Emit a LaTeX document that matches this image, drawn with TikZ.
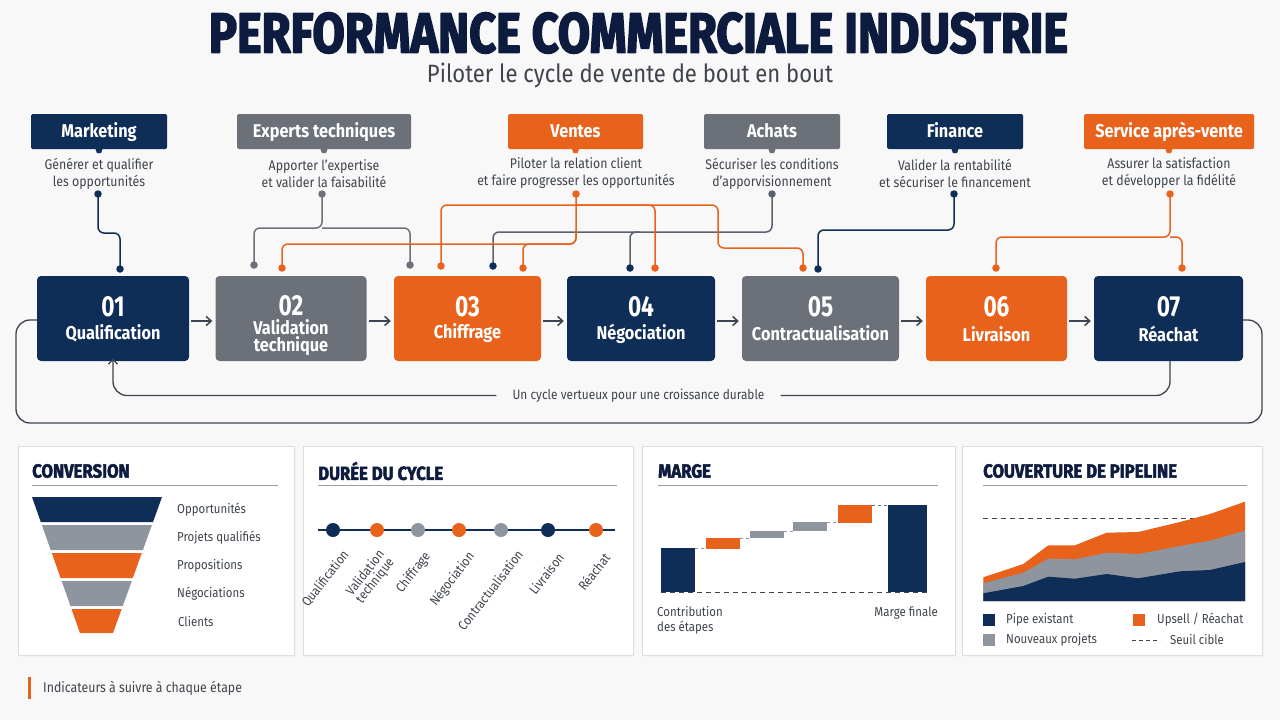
\documentclass[tikz,border=0pt]{standalone}
\usepackage{fontspec}
\setmainfont{Fira Sans}[FakeStretch=0.88]
\newfontfamily\numfont{Fira Sans}[FakeStretch=0.78]
\usetikzlibrary{arrows.meta,calc}
\newcommand{\heavytext}[2]{\special{pdf:literal direct 2 Tr #1 w 1 j}#2\special{pdf:literal direct 0 Tr}}
\definecolor{navy}{HTML}{0E2D57}
\definecolor{orng}{HTML}{E8621C}
\definecolor{slate}{HTML}{6B7079}
\definecolor{lgray}{HTML}{8E959E}
\definecolor{txt}{HTML}{3F444C}
\definecolor{ttl}{HTML}{0D1B3E}
\definecolor{bgc}{HTML}{F8F8F8}
\definecolor{lnc}{HTML}{3D4350}
\definecolor{achc}{HTML}{5A6270}
\definecolor{rule}{HTML}{9A9EA4}
\begin{document}
\begin{tikzpicture}[x=1pt,y=-1pt,
  role/.style={rounded corners=1.5pt, text=white, inner sep=0pt, minimum height=35pt,
    text height=12pt, text depth=0pt, font=\fontsize{18.5}{20}\selectfont\bfseries},
  desc/.style={text=txt, align=center, inner sep=0pt, font=\fontsize{14}{17}\selectfont},
  stagebox/.style={rounded corners=4pt, inner sep=0pt, minimum height=85pt},
  stnum/.style={text=white, inner sep=0pt, font=\fontsize{29}{30}\selectfont\numfont\bfseries},
  stlab/.style={text=white, inner sep=0pt, align=center, font=\fontsize{18.5}{17}\selectfont\bfseries},
  conn/.style={line width=1.5pt, rounded corners=6pt},
  enddot/.style={circle, inner sep=0pt, minimum size=7.5pt},
  flow/.style={lnc, line width=1.5pt, -{Straight Barb[length=5pt,width=9pt]}, shorten <=2pt, shorten >=3pt},
  loopline/.style={lnc, line width=1.3pt, rounded corners=14pt},
  panel/.style={draw=black!13, fill=white, inner sep=0pt},
  ptitle/.style={text=ttl, inner sep=0pt, anchor=west, font=\fontsize{19}{20}\selectfont\bfseries},
  small/.style={text=txt, inner sep=0pt, font=\fontsize{13}{15}\selectfont},
  tlab/.style={text=txt, inner sep=0pt, anchor=east, rotate=52, align=center, font=\fontsize{13.2}{12.5}\selectfont}
]
\useasboundingbox (0,0) rectangle (1280,720);
\fill[bgc] (0,0) rectangle (1280,720);

% ---------- title ----------
\node[inner sep=0pt, text=ttl] (title) at (638.5,33) {\resizebox{859pt}{40pt}{\bfseries\heavytext{0.28}{PERFORMANCE COMMERCIALE INDUSTRIE}}};
\node[inner sep=0pt, text=txt] (subtitle) at (630,75) {\resizebox{406pt}{!}{\fontsize{22}{24}\selectfont Piloter le cycle de vente de bout en bout}};

% ---------- roles ----------
\node[role, fill=navy, minimum width=136pt] (rMk) at (99,131.5) {Marketing};
\node[role, fill=slate, minimum width=174pt] (rEx) at (324,131.5) {Experts techniques};
\node[role, fill=orng, minimum width=135pt] (rVe) at (575.5,131.5) {Ventes};
\node[role, fill=slate, minimum width=136pt] (rAc) at (772,131.5) {Achats};
\node[role, fill=navy, minimum width=136pt] (rFi) at (955,131.5) {Finance};
\node[role, fill=orng, minimum width=170pt] (rSa) at (1169,131.5) {Service après-vente};
\foreach \r/\c in {rMk/navy,rEx/slate,rVe/orng,rAc/slate,rFi/navy,rSa/orng}
  \fill[\c] ($(\r.south)+(-3.5,0)$) -- ($(\r.south)+(3.5,0)$) -- ($(\r.south)+(2,4)$) -- ($(\r.south)+(-2,4)$) -- cycle;

\node[desc] (dMk) at (99,173.5) {Générer et qualifier\\les opportunités};
\node[desc] (dEx) at (324,173.5) {Apporter l'expertise\\et valider la faisabilité};
\node[desc] (dVe) at (576,173.5) {Piloter la relation client\\et faire progresser les opportunités};
\node[desc] (dAc) at (772,173.5) {Sécuriser les conditions\\d’apporvisionnement};
\node[desc] (dFi) at (955,173.5) {Valider la rentabilité\\et sécuriser le financement};
\node[desc] (dSa) at (1169,173.5) {Assurer la satisfaction\\et développer la fidélité};

% ---------- stages ----------
\node[stagebox, fill=navy, minimum width=152pt] (st1) at (113,318.5) {};
\node[stagebox, fill=slate, minimum width=151pt] (st2) at (291,318.5) {};
\node[stagebox, fill=orng, minimum width=147pt] (st3) at (467.5,318.5) {};
\node[stagebox, fill=navy, minimum width=148pt] (st4) at (641,318.5) {};
\node[stagebox, fill=slate, minimum width=157pt] (st5) at (820.5,318.5) {};
\node[stagebox, fill=orng, minimum width=141pt] (st6) at (996.5,318.5) {};
\node[stagebox, fill=navy, minimum width=149pt] (st7) at (1168.5,318.5) {};

\node[stnum] (n1) at (113,307) {01};
\node[stnum] (n2) at (291,306) {02};
\node[stnum] (n3) at (467.5,307) {03};
\node[stnum] (n4) at (641,307) {04};
\node[stnum] (n5) at (820.5,307) {05};
\node[stnum] (n6) at (996.5,307) {06};
\node[stnum] (n7) at (1168.5,307) {07};
\node[stlab] (l1) at (113,333.5) {Qualification};
\node[stlab] (l2) at (291,338) {Validation\\technique};
\node[stlab] (l3) at (467.5,333.5) {Chiffrage};
\node[stlab] (l4) at (641,333.5) {Négociation};
\node[stlab] (l5) at (820.5,333.5) {Contractualisation};
\node[stlab] (l6) at (996.5,334.5) {Livraison};
\node[stlab] (l7) at (1168.5,333.5) {Réachat};

\foreach \a/\b in {st1/st2,st2/st3,st3/st4,st4/st5,st5/st6,st6/st7}
  \draw[flow] (\a.east |- 0,321) -- (\b.west |- 0,321);

% ---------- loops ----------
\node[small, font=\fontsize{13.5}{15}\selectfont, inner xsep=16pt, inner ysep=2pt] (cyc) at (638.5,395.5) {Un cycle vertueux pour une croissance durable};
\draw[loopline] (st7.south -| 1170,0) |- (cyc.east);
\draw[loopline, -{Straight Barb[length=5pt,width=9pt]}] (cyc.west) -| ([yshift=3pt]st1.south);
\draw[loopline] (st1.west |- 0,320) -- (16,320) -- (16,423) -- (1262,423) -- (1262,320) -- (st7.east |- 0,320);

% ---------- connectors ----------
\coordinate (mkD) at (98,194);
\coordinate (exD) at (322,194);
\coordinate (veD) at (576,194);
\coordinate (acD) at (772,194);
\coordinate (fiD) at (954,194);
\coordinate (saD) at (1170,194);
\coordinate (a1) at (120,269);
\coordinate (a2g) at (254,265);
\coordinate (a2o) at (282,268);
\coordinate (a3g) at (410,265);
\coordinate (a3o) at (441,266);
\coordinate (a3n) at (493,266);
\coordinate (a3p) at (523,268);
\coordinate (a4n) at (630,268);
\coordinate (a4o) at (655,268);
\coordinate (a5o) at (803,268);
\coordinate (a5n) at (818,269);
\coordinate (a6o) at (996,268);
\coordinate (a7o) at (1182,268);

\draw[conn, navy] (mkD) -- (98,233) -| (a1);
\draw[conn, slate] (exD) -- (322,228) -| (a2g);
\draw[conn, slate] (322,228) -| (a3g);
\draw[conn, achc] (acD) -- (772,232) -| (a3n);
\draw[conn, achc] (640,232) -| (a4n);
\draw[conn, orng] (veD) -- (576,244) -| (a2o);
\draw[conn, orng] (576,230) -- (576,244) -| (a3p);
\draw[conn, orng] (576,205) -| (a3o);
\draw[conn, orng] (576,205) -| (a4o);
\draw[conn, orng] (576,205) -- (718,205) -- (718,248) -| (a5o);
\draw[conn, navy] (fiD) -- (954,230) -| (a5n);
\draw[conn, orng] (saD) -- (1170,237) -| (a6o);
\draw[conn, orng] (1170,237) -| (a7o);

\foreach \p/\c in {mkD/navy,exD/slate,veD/orng,acD/achc,fiD/navy,saD/orng,
  a1/navy,a2g/slate,a2o/orng,a3g/slate,a3o/orng,a3n/navy,a3p/orng,a4n/navy,a4o/orng,
  a5o/orng,a5n/navy,a6o/orng,a7o/orng}
  \node[enddot, fill=\c] at (\p) {};

% ---------- panels ----------
\fill[black!5] (20,448) rectangle (296,657);
\fill[black!5] (305,448) rectangle (635,657);
\fill[black!5] (644,448) rectangle (957,657);
\fill[black!5] (964,448) rectangle (1264,657);
\node[panel, minimum width=276pt, minimum height=209pt] (p1) at (156,550.5) {};
\node[panel, minimum width=330pt, minimum height=209pt] (p2) at (468,550.5) {};
\node[panel, minimum width=313pt, minimum height=209pt] (p3) at (798.5,550.5) {};
\node[panel, minimum width=300pt, minimum height=209pt] (p4) at (1112,550.5) {};

\node[ptitle] (t1) at (32,471) {\heavytext{0.45}{CONVERSION}};
\node[ptitle] (t2) at (318,471) {\heavytext{0.45}{DURÉE DU CYCLE}};
\node[ptitle] (t3) at (658,471) {\heavytext{0.45}{MARGE}};
\node[ptitle] (t4) at (983,471) {\heavytext{0.45}{COUVERTURE DE PIPELINE}};
\draw[rule, line width=1pt] (32,485) -- (278,485);
\draw[rule, line width=1pt] (318,485) -- (617,485);
\draw[rule, line width=1pt] (658,485) -- (938,485);
\draw[rule, line width=1pt] (983,485) -- (1247,485);

% funnel
\fill[navy] (32,497) -- (162,497) -- (153,522) -- (40.8,522) -- cycle;
\fill[lgray] (41.9,525) -- (151.9,525) -- (142.9,550) -- (50.7,550) -- cycle;
\fill[orng] (51.8,553) -- (141.8,553) -- (132.8,578) -- (60.6,578) -- cycle;
\fill[lgray] (61.7,581) -- (131.8,581) -- (122.8,606) -- (70.5,606) -- cycle;
\fill[orng] (71.5,609) -- (121.7,609) -- (113,633) -- (80,633) -- cycle;
\node[small, anchor=west] (f1) at (177,510) {Opportunités};
\node[small, anchor=west] (f2) at (177,538) {Projets qualifiés};
\node[small, anchor=west] (f3) at (177,566) {Propositions};
\node[small, anchor=west] (f4) at (177,594) {Négociations};
\node[small, anchor=west] (f5) at (178,622) {Clients};

% timeline
\draw[navy, line width=1.8pt] (318,530) -- (615,530);
\foreach \x/\c in {333/navy,377/orng,418/lgray,459/orng,501/lgray,548/navy,596/orng}
  \node[circle, fill=\c, inner sep=0pt, minimum size=14pt] at (\x,530) {};
\node[tlab] (q1) at (346,552) {Qualification};
\node[tlab] (q2) at (387,556) {Validation\\technique};
\node[tlab] (q3) at (428,554) {Chiffrage};
\node[tlab] (q4) at (472,554) {Négociation};
\node[tlab] (q5) at (520,552) {Contractualisation};
\node[tlab] (q6) at (561,555) {Livraison};
\node[tlab] (q7) at (607,555) {Réachat};

% waterfall
\fill[navy] (661,548) rectangle (695,592);
\fill[orng] (706,538) rectangle (740,549);
\fill[lgray] (750,531) rectangle (784,538);
\fill[lgray] (793,522) rectangle (827,531);
\fill[orng] (838,505) rectangle (872,523);
\fill[navy] (888,505) rectangle (927,592);
\draw[lgray, dashed, line width=0.8pt] (695,548) -- (706,548);
\draw[lgray, dashed, line width=0.8pt] (740,538) -- (750,538);
\draw[lgray, dashed, line width=0.8pt] (784,531) -- (793,531);
\draw[lgray, dashed, line width=0.8pt] (827,522) -- (838,522);
\draw[lgray!80!black, dashed, line width=0.8pt] (872,505) -- (888,505);
\draw[lnc, line width=1pt, dash pattern=on 5pt off 4pt] (661,592) -- (927,592);
\node[small, anchor=west, align=left, font=\fontsize{13}{15.5}\selectfont] (mg1) at (657,620.5) {Contribution\\des étapes};
\node[small, anchor=east] (mg2) at (938,613) {Marge finale};

% pipeline
\draw[lnc, line width=1pt, dash pattern=on 5pt off 4pt] (983,518) -- (1245,518);
\fill[orng] (983.3,601) -- (983.3,577.3) -- (1023.3,564) -- (1048.3,545.3) -- (1075,545.3) -- (1106.7,532.7) -- (1138.3,532) -- (1180,522) -- (1210,514) -- (1245,501.7) -- (1245,601) -- cycle;
\fill[lgray] (983.3,601) -- (983.3,583.3) -- (1023.3,572.7) -- (1048.3,558.7) -- (1075,559.3) -- (1106.7,552.7) -- (1138.3,554) -- (1180,546) -- (1210,540.7) -- (1245,530.7) -- (1245,601) -- cycle;
\fill[navy] (983.3,601) -- (983.3,593.3) -- (1023.3,586) -- (1048.3,576.7) -- (1075,578.7) -- (1106.7,574) -- (1138.3,578.3) -- (1180,571.3) -- (1210,570) -- (1245,562) -- (1245,601) -- cycle;
\fill[navy] (983,614) rectangle (995,626);
\fill[lgray] (983,634) rectangle (995,646);
\fill[orng] (1133,614) rectangle (1145,626);
\draw[lnc, line width=1pt, dash pattern=on 4pt off 3pt] (1132,640) -- (1160,640);
\node[small, anchor=west] (lg1) at (1006,620) {Pipe existant};
\node[small, anchor=west] (lg2) at (1006,640) {Nouveaux projets};
\node[small, anchor=west] (lg3) at (1157,620) {Upsell / Réachat};
\node[small, anchor=west] (lg4) at (1170,640) {Seuil cible};

% footer
\fill[orng] (28,677) rectangle (31,699);
\node[small, anchor=west, font=\fontsize{14}{16}\selectfont] (foot) at (43,688.5) {Indicateurs à suivre à chaque étape};
\end{tikzpicture}
\end{document}
